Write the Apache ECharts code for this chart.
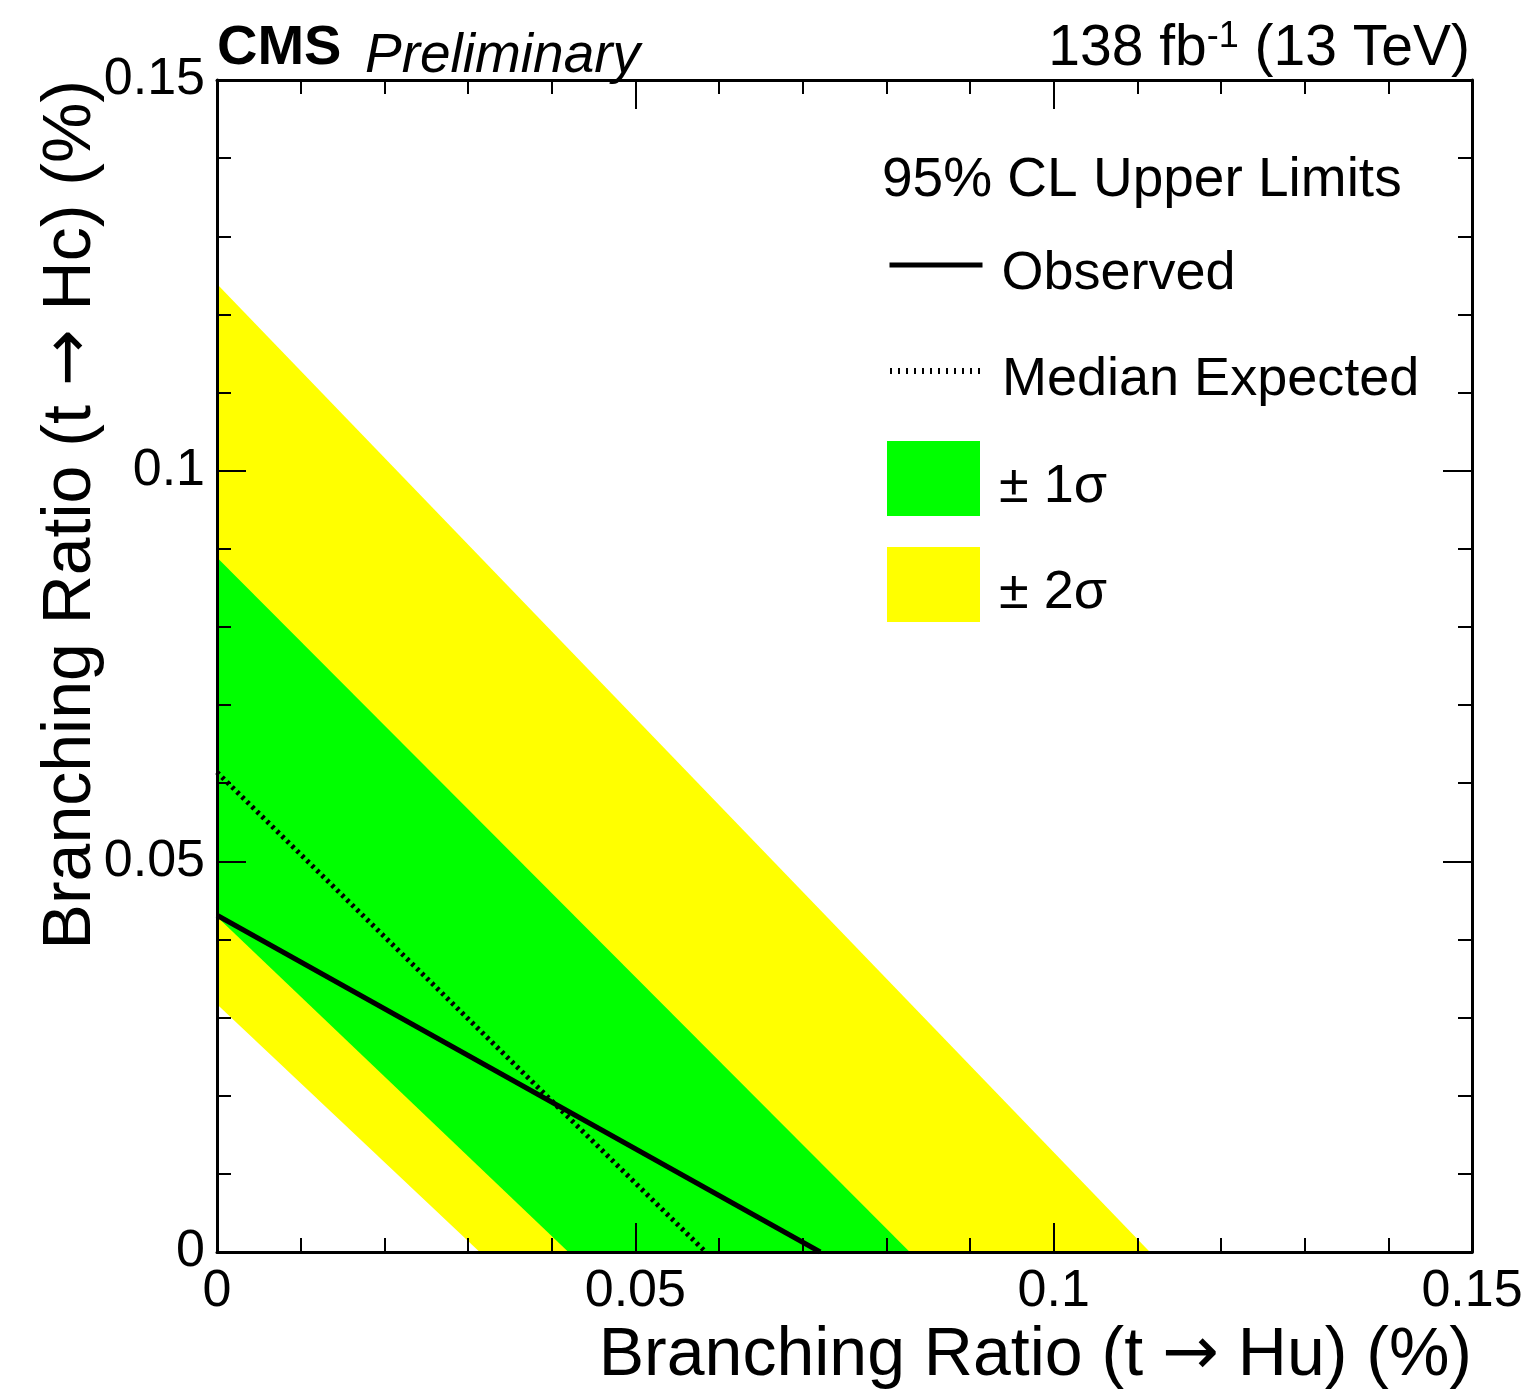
<!DOCTYPE html>
<html>
<head>
<meta charset="utf-8">
<script src="https://cdn.jsdelivr.net/npm/echarts@6/dist/echarts.min.js"></script>
<style>
  html, body { margin: 0; padding: 0; background: #fff; }
  #container { width: 1533px; height: 1395px; }
</style>
</head>
<body>
<div id="container"></div>
<script>
var dom = document.getElementById("container");
var myChart = echarts.init(dom);

// contour end points: [BR(t->Hu), BR(t->Hc)] in %
var twoSigmaUp = [[0, 0.1239], [0.1115, 0]];
var oneSigmaUp = [[0, 0.0889], [0.0828, 0]];
var oneSigmaDown = [[0, 0.0429], [0.0420, 0]];
var twoSigmaDown = [[0, 0.0317], [0.0314, 0]];
var expected = [[0, 0.0614], [0.0584, 0]];
var observed = [[0, 0.0431], [0.0721, 0]];

var legendNames = ["Observed", "Median Expected", "± 1σ", "± 2σ"];

var font = "Liberation Sans";

function axisCommon(extra) {
  var a = {
    type: "value",
    min: 0,
    max: 0.15,
    interval: 0.05,
    z: 10,
    axisLine: { show: true, onZero: false, lineStyle: { color: "#000", width: 3 } },
    axisTick: { show: true, inside: true, length: 29, lineStyle: { color: "#000", width: 2 } },
    minorTick: { show: true, splitNumber: 5, length: 14, lineStyle: { color: "#000", width: 2 } },
    splitLine: { show: false },
    axisLabel: { show: false },
  };
  return Object.assign(a, extra);
}

function band(name, data, color) {
  return {
    name: name,
    type: "line",
    data: data,
    symbol: "none",
    color: color,
    itemStyle: { color: color },
    lineStyle: { width: 0, color: color },
    areaStyle: { color: color, opacity: 1 },
    silent: true,
  };
}

// one legend box per entry so each row sits where it should
function legendRow(item, top) {
  return {
    orient: "vertical",
    left: 887,
    top: top,
    padding: 0,
    itemWidth: 93,
    itemHeight: 75,
    selectedMode: false,
    formatter: "{t|{name}}",
    textStyle: {
      fontFamily: font,
      fontSize: 54,
      color: "#000",
      rich: {
        t: { fontFamily: font, fontSize: 54, color: "#000", lineHeight: 56, padding: [18, 0, 0, 14] },
      },
    },
    data: [item],
  };
}

var arrowStyle = { fontFamily: "DejaVu Sans", fontSize: 68, fill: "#000" };

var option = {
  animation: false,
  backgroundColor: "#fff",
  grid: { left: 217, right: 61, top: 80, bottom: 143, containLabel: false },
  title: [
    {
      text: "CMS",
      left: 217,
      top: 21,
      padding: 0,
      textStyle: { fontFamily: font, fontSize: 56, fontWeight: "bold", color: "#000" },
    },
    {
      text: "Preliminary",
      left: 365,
      top: 29,
      padding: 0,
      textStyle: { fontFamily: font, fontSize: 55, fontStyle: "italic", fontWeight: "normal", color: "#000" },
    },
    {
      text: "{n|138 fb}{s|-1}{n| (13 TeV)}",
      right: 63,
      top: 19,
      padding: 0,
      textStyle: {
        fontWeight: "normal",
        rich: {
          n: { fontFamily: font, fontSize: 57, fontWeight: "normal", color: "#000", lineHeight: 60 },
          s: { fontFamily: font, fontSize: 36, fontWeight: "normal", color: "#000", verticalAlign: "top", lineHeight: 36 },
        },
      },
    },
    {
      text: "95% CL Upper Limits",
      left: 882,
      top: 153,
      padding: 0,
      textStyle: { fontFamily: font, fontSize: 55, fontWeight: "normal", color: "#000" },
    },
  ],
  legend: [
    legendRow({ name: legendNames[0], itemStyle: { opacity: 0 }, lineStyle: { width: 5, color: "#000" } }, 229),
    legendRow({ name: legendNames[1], itemStyle: { opacity: 0 }, lineStyle: { width: 6, color: "#000", type: [2, 6] } }, 335),
    legendRow({ name: legendNames[2], icon: "rect" }, 441),
    legendRow({ name: legendNames[3], icon: "rect" }, 547),
  ],
  xAxis: [
    axisCommon({
      position: "bottom",
      axisLabel: { show: true, margin: 14, fontFamily: font, fontSize: 52, color: "#000" },
    }),
    axisCommon({ position: "top" }),
  ],
  yAxis: [
    axisCommon({
      position: "left",
      axisLabel: { show: true, margin: 12, fontFamily: font, fontSize: 52, color: "#000", verticalAlign: "middle" },
    }),
    axisCommon({ position: "right" }),
  ],
  series: [
    band(legendNames[3], twoSigmaUp, "#ffff00"),
    band(legendNames[2], oneSigmaUp, "#00ff00"),
    band("inner1", oneSigmaDown, "#ffff00"),
    band("inner2", twoSigmaDown, "#ffffff"),
    {
      name: legendNames[1],
      type: "line",
      data: expected,
      symbol: "none",
      color: "#000",
      z: 5,
      lineStyle: { color: "#000", width: 5, type: [3, 4] },
    },
    {
      name: legendNames[0],
      type: "line",
      data: observed,
      symbol: "none",
      color: "#000",
      z: 5,
      lineStyle: { color: "#000", width: 5 },
    },
  ],
  graphic: [
    {
      type: "text",
      x: 1472,
      y: 1356,
      style: {
        text: "Branching Ratio (t {a|\u2192} Hu) (%)",
        fontFamily: font,
        fontSize: 68,
        fill: "#000",
        align: "right",
        verticalAlign: "middle",
        rich: { a: arrowStyle },
      },
    },
    {
      type: "text",
      x: 71,
      y: 80,
      rotation: Math.PI / 2,
      style: {
        text: "Branching Ratio (t {a|\u2192} Hc) (%)",
        fontFamily: font,
        fontSize: 68,
        fill: "#000",
        align: "right",
        verticalAlign: "middle",
        rich: { a: arrowStyle },
      },
    },
  ],
};

myChart.setOption(option);
</script>
</body>
</html>
